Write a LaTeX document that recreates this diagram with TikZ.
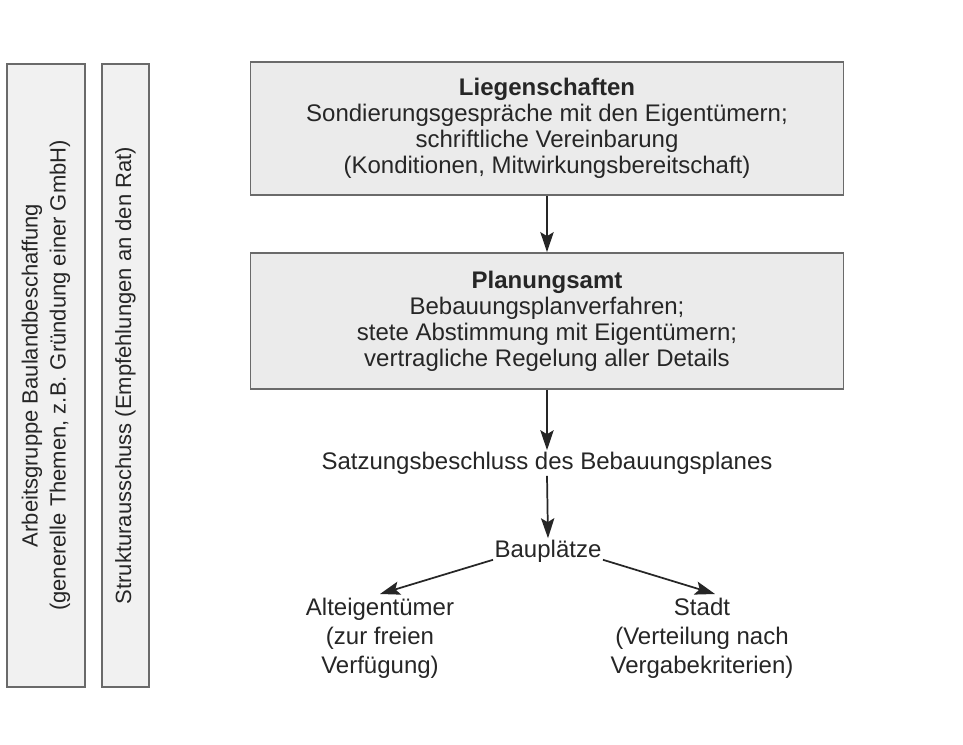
\documentclass[tikz,border=0pt]{standalone}
\usepackage{fontspec}
\setmainfont{Liberation Sans}
\usetikzlibrary{arrows.meta,calc}
\definecolor{boxfill}{HTML}{EBEBEB}
\definecolor{boxline}{HTML}{6A6A6A}
\definecolor{ink}{HTML}{262626}
\begin{document}
\begin{tikzpicture}[x=0.75pt,y=-0.75pt,
  every node/.style={text=ink},
  mainbox/.style={draw=boxline, line width=1.3pt, fill=boxfill, align=center, inner sep=0pt,
     minimum width=444.75pt, font=\fontsize{18}{19.5}\selectfont},
  sidebox/.style={draw=boxline, line width=1.3pt, fill=boxfill!70!white, align=center, inner sep=0pt,
     rotate=90, font=\fontsize{16.5}{21}\selectfont},
  plain/.style={align=center, inner sep=1pt, font=\fontsize{18}{21.75}\selectfont},
  conn/.style={draw=ink, line width=1.3pt, -{Stealth[length=15pt,width=10pt,inset=3pt]}}
]
\useasboundingbox (0,0) rectangle (963,745);
\fill[white] (0,0) rectangle (963,745);

\node[sidebox, minimum width=467.25pt, minimum height=58.5pt] (ag) at (46,375.5)
  {Arbeitsgruppe Baulandbeschaffung\\(generelle Themen, z.B. Gründung einer GmbH)};
\node[sidebox, minimum width=467.25pt, minimum height=35.25pt] (sa) at (125.5,375.5)
  {Strukturausschuss (Empfehlungen an den Rat)};

\node[mainbox, minimum height=99.75pt] (lieg) at (547,128.5)
  {\textbf{Liegenschaften}\\Sondierungsgespräche mit den Eigentümern;\\schriftliche Vereinbarung\\(Konditionen, Mitwirkungsbereitschaft)};
\node[mainbox, minimum height=102pt] (plan) at (547,321)
  {\textbf{Planungsamt}\\Bebauungsplanverfahren;\\stete Abstimmung mit Eigentümern;\\vertragliche Regelung aller Details};

\node[plain] (satz) at (547,463) {Satzungsbeschluss des Bebauungsplanes};
\node[plain] (bau) at (548,551) {Bauplätze};
\node[plain, anchor=north] (alt) at (380,597) {Alteigentümer\\(zur freien\\Verfügung)};
\node[plain, anchor=north] (stadt) at (702,597) {Stadt\\(Verteilung nach\\Vergabekriterien)};

\draw[conn] (lieg.south) -- (plan.north);
\draw[conn] (plan.south) -- (satz.north);
\draw[conn] (satz.south) -- (bau.north);
\draw[conn] ($(bau.south west)+(0,-4)$) -- ($(alt.north)+(0,-3)$);
\draw[conn] ($(bau.south east)+(0,-4)$) -- ($(stadt.north)+(13,-3)$);
\end{tikzpicture}
\end{document}
